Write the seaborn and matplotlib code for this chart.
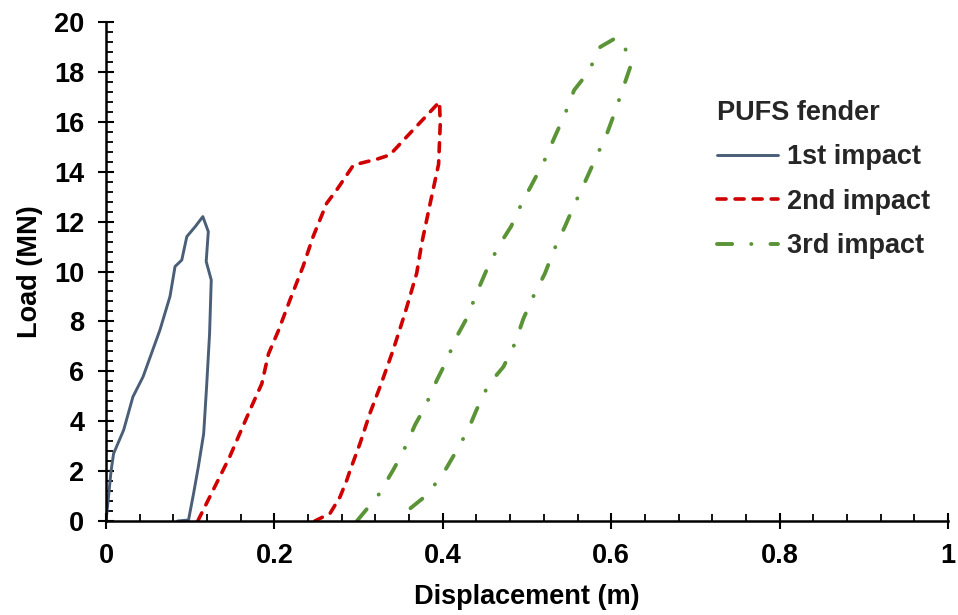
import matplotlib
matplotlib.use("Agg")
import matplotlib.pyplot as plt
from matplotlib.ticker import MultipleLocator
import seaborn as sns
import pandas as pd

# ---- data ----
x_first = [0.0, 0.003, 0.006, 0.009, 0.021, 0.032, 0.044, 0.064, 0.076, 0.082, 0.090,
           0.096, 0.106, 0.115, 0.1215, 0.119, 0.125, 0.123, 0.1195, 0.116, 0.1097,
           0.104, 0.098, 0.085]
y_first = [0.0, 0.98, 2.0, 2.7, 3.65, 4.98, 5.78, 7.65, 9.0, 10.2, 10.46,
           11.4, 11.8, 12.2, 11.6, 10.4, 9.66, 7.5, 5.4, 3.5, 2.18,
           1.1, 0.04, 0.0]

x_second = [0.109, 0.147, 0.171, 0.185, 0.193, 0.205, 0.2185, 0.234, 0.246, 0.262,
            0.274, 0.294, 0.3215, 0.337, 0.361, 0.385, 0.396, 0.397, 0.395, 0.385,
            0.375, 0.369, 0.355, 0.341, 0.327, 0.3135, 0.3017, 0.29, 0.286, 0.278,
            0.266, 0.248]
y_second = [0.0, 2.58, 4.45, 5.5, 6.7, 7.65, 8.86, 10.2, 11.4, 12.73,
            13.27, 14.27, 14.5, 14.67, 15.54, 16.4, 16.8, 15.94, 14.3, 12.73,
            11.13, 9.93, 8.32, 6.85, 5.52, 4.32, 3.11, 2.04, 1.64, 0.97,
            0.3, 0.0]

x_third = [0.298, 0.3235, 0.341, 0.353, 0.367, 0.379, 0.393, 0.404, 0.4165, 0.4295,
           0.440, 0.452, 0.466, 0.481, 0.4937, 0.5075, 0.521, 0.533, 0.545, 0.556,
           0.573, 0.587, 0.6065, 0.616, 0.6235, 0.616, 0.6045, 0.5947, 0.581, 0.569,
           0.557, 0.545, 0.532, 0.5214, 0.5075, 0.4956, 0.4857, 0.472, 0.454, 0.440,
           0.430, 0.4145, 0.4006, 0.381, 0.359, 0.350]
y_third = [0.0, 1.04, 2.04, 2.78, 3.85, 4.58, 5.65, 6.39, 7.39, 8.19,
           9.12, 10.06, 11.0, 11.8, 12.73, 13.6, 14.47, 15.4, 16.3, 17.27,
           18.0, 19.0, 19.38, 19.0, 18.28, 17.54, 16.4, 15.5, 14.5, 13.6,
           12.73, 11.8, 10.86, 9.93, 9.0, 8.1, 7.12, 6.18, 5.45, 4.45,
           3.65, 2.71, 1.91, 1.04, 0.44, 0.0]

series_labels = ["1st impact", "2nd impact", "3rd impact"]
legend_title = "PUFS fender"
x_ticks = [0, 0.2, 0.4, 0.6, 0.8, 1]
x_tick_labels = ["0", "0.2", "0.4", "0.6", "0.8", "1"]
y_ticks = [0, 2, 4, 6, 8, 10, 12, 14, 16, 18, 20]

# ---- styling ----
sns.set_theme(style="white")
plt.rcParams["font.family"] = ["Liberation Sans", "DejaVu Sans"]
plt.rcParams["font.weight"] = "bold"
FS = 19.5

fig = plt.figure(figsize=(9.58, 6.15), dpi=100)
ax = fig.add_axes([106 / 958, 1 - 521 / 615, 842 / 958, 499 / 615])

colors = ["#4A5E78", "#D00000", "#5A9436"]
styles = ["-", (0, (2.5, 2.5)), (0, (3.9, 4.9, 0.05, 4.9))]
widths = [2.1, 2.6, 2.8]
xs = [x_first, x_second, x_third]
ys = [y_first, y_second, y_third]

for xv, yv, lab, c, ls, lw in zip(xs, ys, series_labels, colors, styles, widths):
    df = pd.DataFrame({"Displacement": xv, "Load": yv})
    sns.lineplot(data=df, x="Displacement", y="Load", sort=False, estimator=None,
                 ax=ax, color=c, linewidth=lw, linestyle=ls, label=lab,
                 dash_capstyle="round", solid_capstyle="round",
                 solid_joinstyle="round")

ax.set_xlim(0, 1)
ax.set_ylim(0, 20)
ax.set_xticks(x_ticks)
ax.set_xticklabels(x_tick_labels)
ax.set_yticks(y_ticks)
ax.xaxis.set_minor_locator(MultipleLocator(0.04))
ax.yaxis.set_minor_locator(MultipleLocator(0.4))

for s in ["top", "right"]:
    ax.spines[s].set_visible(False)
for s in ["left", "bottom"]:
    ax.spines[s].set_color("black")
    ax.spines[s].set_linewidth(1.8)

ax.tick_params(which="major", direction="inout", length=11.5, width=1.5,
               color="black", labelsize=FS, pad=10, bottom=True, left=True)
ax.tick_params(which="minor", direction="in", length=5, width=1.3,
               color="black", bottom=True, left=True)
for lbl in ax.get_xticklabels() + ax.get_yticklabels():
    lbl.set_fontweight("bold")
    lbl.set_color("black")

ax.set_xlabel("Displacement (m)", fontsize=FS, fontweight="bold", color="black", va="center")
ax.set_ylabel("Load (MN)", fontsize=FS, fontweight="bold", color="black", va="center")
ax.xaxis.set_label_coords(0.5, (521 - 597) / 499)
ax.yaxis.set_label_coords((30 - 106) / 842, 0.5)

leg = ax.legend(title=legend_title, loc="upper left",
                bbox_to_anchor=((717 - 106) / 842, (521 - 100) / 499),
                frameon=False, borderpad=0, borderaxespad=0,
                prop={"size": FS, "weight": "bold"},
                title_fontproperties={"size": FS, "weight": "bold"},
                handlelength=2.25, handletextpad=0.33, labelspacing=0.68,
                alignment="left")

fig.savefig("out.png", dpi=100, facecolor="white")
